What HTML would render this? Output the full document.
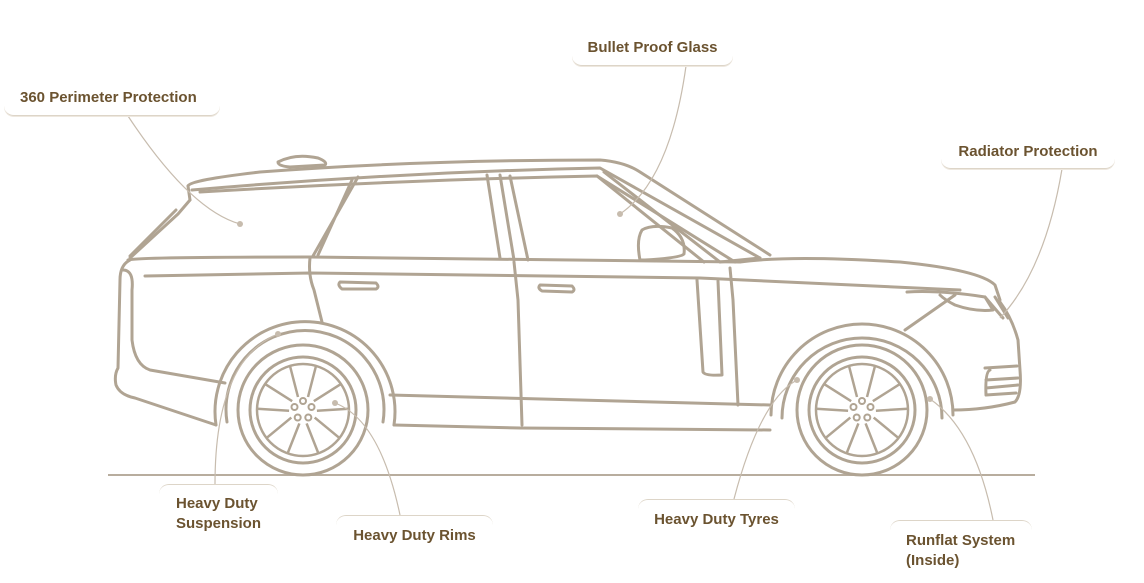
<!DOCTYPE html>
<html><head><meta charset="utf-8"><style>
html,body{margin:0;padding:0;background:#fff;}
body{width:1144px;height:583px;position:relative;overflow:hidden;font-family:"Liberation Sans",sans-serif;}
.lb{position:absolute;color:#6b5330;font-weight:bold;font-size:15px;line-height:20px;}
.bb{border-bottom:1.5px solid #ddd5c8;border-radius:0 0 10px 10px;box-shadow:0 1px 0 #eee8df;}
.bt{border-top:1.5px solid #ddd5c8;border-radius:10px 10px 0 0;}
svg{position:absolute;left:0;top:0;}
</style></head><body>
<svg width="1144" height="583" viewBox="0 0 1144 583">
<defs>
<g id="wheel" fill="none" stroke="#b0a493" stroke-width="3">
<circle r="65"/>
<circle r="53"/>
<circle r="46" stroke-width="2.5"/>
<g stroke-width="2.5">
<g><path d="M-5,-13 L-13,-44 M5,-13 L13,-44"/></g>
<g transform="rotate(72)"><path d="M-5,-13 L-13,-44 M5,-13 L13,-44"/></g>
<g transform="rotate(144)"><path d="M-5,-13 L-13,-44 M5,-13 L13,-44"/></g>
<g transform="rotate(216)"><path d="M-5,-13 L-13,-44 M5,-13 L13,-44"/></g>
<g transform="rotate(288)"><path d="M-5,-13 L-13,-44 M5,-13 L13,-44"/></g>
</g>
<g stroke-width="2"><circle cx="0" cy="-9" r="3"/><circle cx="8.5" cy="-3" r="3"/><circle cx="5.3" cy="7.5" r="3"/><circle cx="-5.3" cy="7.5" r="3"/><circle cx="-8.5" cy="-3" r="3"/></g>
</g>
</defs>
<line x1="108" y1="475" x2="1035" y2="475" stroke="#b8ad9e" stroke-width="2"/>
<g fill="none" stroke="#b0a493" stroke-width="3" stroke-linecap="round" stroke-linejoin="round">
<path d="M278,162 Q295,153 318,158 Q328,162 325,165 L290,167 Q278,166 278,162Z"/>
<path d="M188,186 Q190,180 260,172 Q420,160 600,160 Q625,162 640,172 L770,255"/>
<path d="M188,186 L190,200 M192,190 Q400,172 600,168 L760,258"/>
<path d="M200,192 Q400,180 597,176 L735,262"/>
<path d="M190,200 L178,214 L130,258"/>
<path d="M176,210 L130,256"/>
<path d="M358,177 L313,256 M352,180 L318,255"/>
<path d="M487,175 L500,258 M500,175 L514,260 M510,176 L528,260"/>
<path d="M128,260 Q135,257 310,257 L740,262"/>
<path d="M145,276 L310,273 L700,278 L960,290"/>
<path d="M740,262 Q790,255 900,262 Q980,270 995,285 L1000,300"/>
<path d="M720,262 L760,258"/>
<path d="M597,176 L704,262 M604,172 L720,262"/>
<path d="M640,260 Q636,240 642,230 Q652,224 672,228 Q686,238 684,254 Q680,258 645,260Z"/>
<path d="M310,258 Q308,275 314,290 L322,322"/>
<path d="M514,262 L518,300 L522,425"/>
<path d="M697,280 L703,372 Q705,376 722,375 L718,281"/>
<path d="M730,268 L733,300 L738,405"/>
<path d="M340,282 L376,283 Q380,287 376,289 L342,289 Q337,285 340,282Z"/>
<path d="M540,285 L572,286 Q576,290 572,292 L542,291 Q537,288 540,285Z"/>
<path d="M130,260 Q120,265 120,280 L118,368 Q114,375 116,385 Q120,395 135,398 L216,425"/>
<path d="M123,270 Q134,270 132,290 L132,340 Q135,365 150,370 L225,383"/>
<!-- rear arch -->
<path d="M216,425 A90,90 0 1 1 394,425"/>
<path d="M227,422 A79,79 0 1 1 383,422"/>
<path d="M390,395 L770,405"/>
<path d="M394,425 L520,428 L770,430"/>
<!-- front arch -->
<path d="M771,415 A91,91 0 1 1 953,415"/>
<path d="M782,418 A80,80 0 1 1 942,418"/>
<path d="M953,410 Q985,410 1015,402 Q1022,395 1020,370 L1018,340 Q1012,318 1000,302"/>
<path d="M905,330 L955,295"/>
<path d="M907,292 Q940,290 985,297 L993,310 Q975,312 955,305 Q945,300 940,295"/>
<path d="M985,297 L1003,318 M995,297 L1008,318"/>
<path d="M990,370 Q985,372 986,395 L1016,393 M986,380 L1018,378 M986,388 L1018,385"/>
<path d="M985,368 L1017,366"/>
</g>
<use href="#wheel" x="303" y="410"/>
<use href="#wheel" x="862" y="410"/>
<g fill="none" stroke="#c7bcae" stroke-width="1.2">
<path d="M128,116 Q190,210 240,224"/>
<path d="M686,66 Q670,180 620,214"/>
<path d="M1062,169 Q1045,270 1000,318"/>
<path d="M215,484 Q215,360 278,334"/>
<path d="M400,515 Q380,420 335,403"/>
<path d="M734,499 Q760,400 797,380"/>
<path d="M993,520 Q975,430 930,399"/>
</g>
<g fill="#c7bcae">
<circle cx="240" cy="224" r="3"/><circle cx="620" cy="214" r="3"/><circle cx="278" cy="334" r="3"/>
<circle cx="335" cy="403" r="3"/><circle cx="797" cy="380" r="3"/><circle cx="930" cy="399" r="3"/>
</g>
</svg>
<div class="lb bb" style="left:4px;top:87px;width:200px;height:27px;padding-left:16px;padding-top:1px;">360 Perimeter Protection</div>
<div class="lb bb" style="left:572px;top:38px;width:161px;height:27px;text-align:center;">Bullet Proof Glass</div>
<div class="lb bb" style="left:941px;top:142px;width:174px;height:26px;text-align:center;">Radiator Protection</div>
<div class="lb bt" style="left:159px;top:484px;width:119px;padding:9px 0 0 17px;box-sizing:border-box;">Heavy Duty<br>Suspension</div>
<div class="lb bt" style="left:336px;top:515px;width:157px;padding-top:10px;text-align:center;">Heavy Duty Rims</div>
<div class="lb bt" style="left:638px;top:499px;width:157px;padding-top:10px;text-align:center;">Heavy Duty Tyres</div>
<div class="lb bt" style="left:890px;top:520px;width:142px;padding:10px 0 0 16px;box-sizing:border-box;">Runflat System<br>(Inside)</div>
</body></html>
